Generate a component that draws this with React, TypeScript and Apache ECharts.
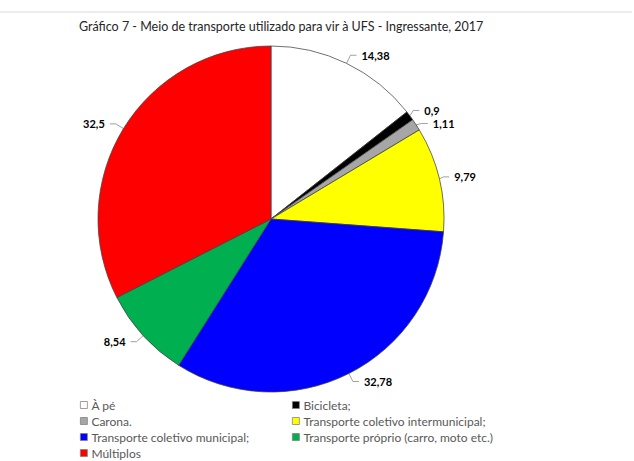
import React, { useEffect, useRef } from "react";
import * as echarts from "echarts";

const categories = [
  "À pé",
  "Bicicleta;",
  "Carona.",
  "Transporte coletivo intermunicipal;",
  "Transporte coletivo municipal;",
  "Transporte próprio (carro, moto etc.)",
  "Múltiplos",
];
const values = [14.38, 0.9, 1.11, 9.79, 32.78, 8.54, 32.5];
const colors = ["#ffffff", "#000000", "#a6a6a6", "#ffff00", "#0000ff", "#00b050", "#ff0000"];
const legendLeft = ["À pé", "Carona.", "Transporte coletivo municipal;", "Múltiplos"];
const legendRight = ["Bicicleta;", "Transporte coletivo intermunicipal;", "Transporte próprio (carro, moto etc.)"];
const title = "Gráfico 7 - Meio de transporte utilizado para vir à UFS - Ingressante, 2017";

const FONT = "Lato";

export default function App() {
  const ref = useRef<HTMLDivElement>(null);
  useEffect(() => {
    if (!ref.current) return;
    const chart = echarts.init(ref.current, null, { renderer: "svg" });
    const legendCommon = {
      orient: "vertical" as const,
      icon: "rect",
      itemWidth: 7,
      itemHeight: 7,
      itemGap: 0,
      selectedMode: false,
      itemStyle: { borderColor: "#7f7f7f", borderWidth: 0.75 },
      textStyle: { fontFamily: FONT, fontSize: 12, color: "#595959", lineHeight: 16, padding: [0, 0, 0, -1] },
      padding: 0,
    };
    chart.setOption({
      animation: false,
      backgroundColor: "#ffffff",
      title: {
        text: title,
        left: 79,
        top: 20,
        padding: 0,
        textStyle: { fontFamily: FONT, fontSize: 12.5, fontWeight: "normal", color: "#262626" },
      },
      graphic: [
        { type: "line", shape: { x1: 0, y1: 12, x2: 632, y2: 12 }, style: { stroke: "#d9d9d9", lineWidth: 1 } },
      ],
      legend: [
        { ...legendCommon, left: 80, top: 397, data: legendLeft },
        { ...legendCommon, left: 292, top: 397, data: legendRight },
      ],
      series: [
        {
          type: "pie",
          center: [271, 219],
          radius: 173,
          startAngle: 90,
          clockwise: true,
          avoidLabelOverlap: true,
          itemStyle: { borderColor: "#404040", borderWidth: 0.75 },
          label: {
            show: true,
            position: "outside",
            fontFamily: FONT,
            fontWeight: "bold",
            fontSize: 11,
            color: "#000000",
            formatter: (p: any) => String(p.value).replace(".", ","),
          },
          labelLine: {
            show: true,
            length: 9,
            length2: 6,
            lineStyle: { color: "#808080", width: 0.75 },
          },
          emphasis: { disabled: true },
          data: categories.map((c, i) => ({ name: c, value: values[i], itemStyle: { color: colors[i] } })),
        },
      ],
    });
    return () => chart.dispose();
  }, []);
  return (
    <div
      ref={ref}
      style={{ position: "fixed", left: 0, top: 0, width: 634, height: 461, background: "#fff" }}
    />
  );
}
